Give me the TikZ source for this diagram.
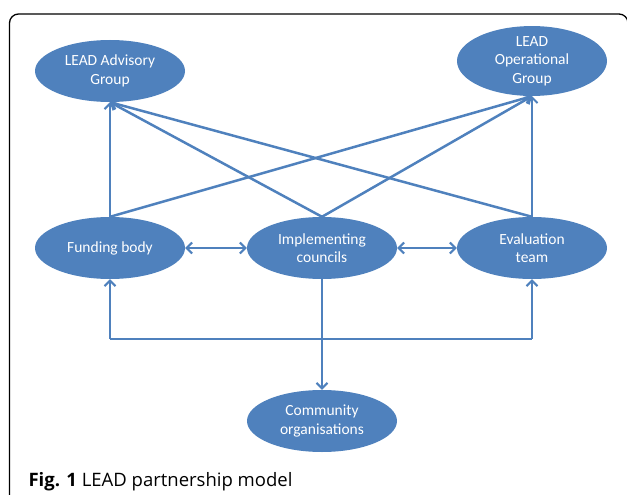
\documentclass[tikz,border=0pt]{standalone}
\usepackage{fontspec}
\setmainfont{Carlito}
\newfontfamily\capfont{Open Sans}
\usetikzlibrary{shapes.geometric,arrows.meta}

\definecolor{leadblue}{RGB}{79,129,189}

\begin{document}
\begin{tikzpicture}[x=1pt,y=-1pt,
   group/.style={ellipse, fill=leadblue, draw=none, text=white,
      minimum width=150pt, minimum height=62pt, inner sep=0pt,
      align=center, font=\fontsize{15.5}{18.5}\selectfont},
   link/.style={draw=leadblue, line width=2.5pt,
      -{Straight Barb[length=5.5pt,width=11pt,line width=2pt]}},
   both/.style={link, {Straight Barb[length=5.5pt,width=11pt,line width=2pt]}-{Straight Barb[length=5.5pt,width=11pt,line width=2pt]}},
   plain/.style={draw=leadblue, line width=2.5pt}]

   \useasboundingbox (0,0) rectangle (627,495);
   \clip (0,0) rectangle (627,495);

   % outer frame
   \draw[black, line width=1.3pt, rounded corners=9pt] (9.5,14) rectangle (628,520);

   % groups
   \node[group] (adv)  at (110,71)  {LEAD Advisory\\Group};
   \node[group] (op)   at (532,61)  {LEAD\\Operational\\Group};
   \node[group] (fund) at (110,248) {Funding body};
   \node[group] (impl) at (322,248) {Implementing\\councils};
   \node[group] (eval) at (532,248) {Evaluation\\team};
   \node[group] (comm) at (322,421) {Community\\organisations};

   \coordinate (fl) at (110,339);
   \coordinate (el) at (532,339);

   % upward links
   \draw[link] (fund.north) -- (adv.south);
   \draw[link] (fund.north) -- (op.south);
   \draw[link] (impl.north) -- (adv.south);
   \draw[link] (impl.north) -- (op.south);
   \draw[link] (eval.north) -- (adv.south);
   \draw[link] (eval.north) -- (op.south);

   % sideways
   \draw[both] (fund.east) -- (impl.west);
   \draw[both] (impl.east) -- (eval.west);

   % down to the community and back round
   \draw[link] (impl.south) -- (comm.north);
   \draw[plain] (fl) -- (el);
   \draw[link] (fl) -- (fund.south);
   \draw[link] (el) -- (eval.south);

   \node[anchor=base west, font=\capfont\fontsize{18.5}{22}\selectfont] (cap) at (25,486)
      {\textbf{Fig. 1} LEAD partnership model};

\end{tikzpicture}
\end{document}
